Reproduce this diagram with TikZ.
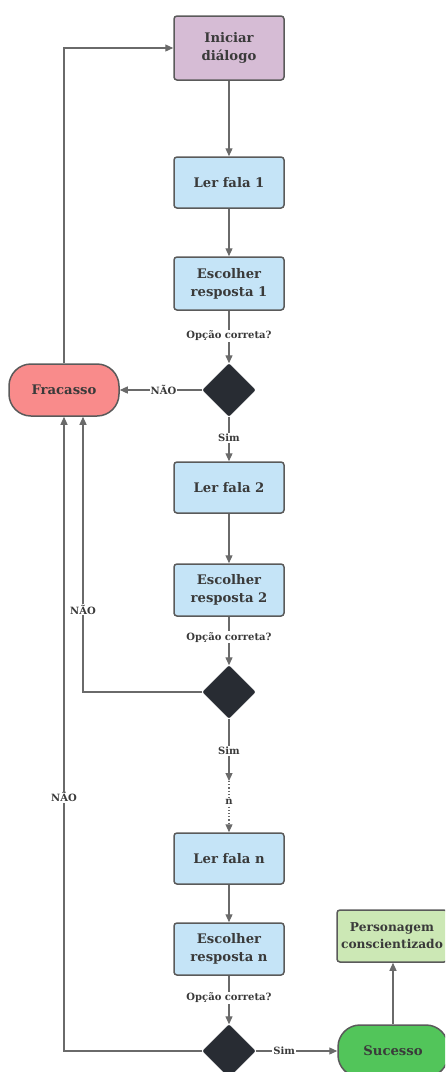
\documentclass[tikz,border=0pt]{standalone}
\usepackage{fontspec}
\setmainfont{DejaVu Serif}
\usetikzlibrary{arrows.meta,shapes.geometric}
\definecolor{boxline}{HTML}{5A5A5A}
\definecolor{conncol}{HTML}{6A6A6A}
\definecolor{txtcol}{HTML}{3A3A3A}
\definecolor{purplefill}{HTML}{D6BCD5}
\definecolor{bluefill}{HTML}{C5E4F7}
\definecolor{redfill}{HTML}{F98B8B}
\definecolor{greenfill}{HTML}{52C55A}
\definecolor{lightgreen}{HTML}{CCE8B5}
\definecolor{diamondfill}{HTML}{282C33}
\tikzset{
  x=1pt,y=1pt,
  box/.style={draw=boxline, line width=1.5pt, rounded corners=3pt, minimum width=110pt, minimum height=52pt,
    align=center, text=txtcol, font=\fontsize{13.2}{18}\selectfont\bfseries, inner sep=0pt},
  pill/.style={draw=boxline, line width=1.5pt, rounded corners=22pt, minimum width=110pt, minimum height=52pt,
    align=center, text=txtcol, font=\fontsize{13.2}{18}\selectfont\bfseries, inner sep=0pt},
  dec/.style={diamond, aspect=1, draw=diamondfill, fill=diamondfill, minimum width=53pt, minimum height=53pt,
    inner sep=0pt, rounded corners=2pt},
  conn/.style={draw=conncol, line width=1.2pt, -{Triangle[length=8pt,width=7pt]}},
  lbl/.style={fill=white, text=txtcol, font=\fontsize{10}{11}\selectfont\bfseries, inner sep=1pt}
}
\begin{document}
\begin{tikzpicture}
\useasboundingbox (0,0) rectangle (445,-1072);
\clip (0,0) rectangle (445,-1072);
% nodes
\node[box, fill=purplefill, minimum height=64pt] (ini) at (229,-48) {Iniciar\\diálogo};
\node[box, fill=bluefill, minimum height=51pt] (l1) at (229,-182.5) {Ler fala 1};
\node[box, fill=bluefill, minimum height=53pt] (e1) at (229,-283.5) {Escolher\\resposta 1};
\node[dec] (d1) at (229,-390) {};
\node[pill, fill=redfill] (fr) at (64,-390) {Fracasso};
\node[box, fill=bluefill, minimum height=51pt] (l2) at (229,-487.5) {Ler fala 2};
\node[box, fill=bluefill, minimum height=52pt] (e2) at (229,-590) {Escolher\\resposta 2};
\node[dec] (d2) at (229,-692) {};
\coordinate (m) at (229,-781);
\node[box, fill=bluefill, minimum height=51pt] (ln) at (229,-858.5) {Ler fala n};
\node[box, fill=bluefill, minimum height=52pt] (en) at (229,-949) {Escolher\\resposta n};
\node[dec] (d3) at (229,-1051) {};
\node[pill, fill=greenfill] (su) at (393,-1051) {Sucesso};
\node[box, fill=lightgreen, minimum height=52pt, font=\fontsize{12.2}{17}\selectfont\bfseries] (pc) at (392,-936) {Personagem\\conscientizado};
% connectors
\draw[conn] (ini) -- (l1);
\draw[conn] (l1) -- (e1);
\draw[conn] (e1) -- node[lbl, pos=0.48]{Opção correta?} (d1);
\draw[conn] (d1) -- node[lbl, pos=0.47]{NÃO} (fr);
\draw[conn] (d1) -- node[lbl, pos=0.48]{Sim} (l2);
\draw[conn] (l2) -- (e2);
\draw[conn] (e2) -- node[lbl, pos=0.42]{Opção correta?} (d2);
\draw[conn] (d2.west) -| node[lbl, pos=0.65]{NÃO} (fr.south -| 83,0);
\draw[conn] (d2) -- node[lbl, pos=0.52]{Sim} (m);
\draw[conn, dotted] (m) -- node[lbl, pos=0.4]{n} (ln);
\draw[conn] (ln) -- (en);
\draw[conn] (en) -- node[lbl, pos=0.45]{Opção correta?} (d3);
\draw[conn] (d3.west) -| node[lbl, pos=0.70]{NÃO} (fr.south);
\draw[conn] (d3.east) -- node[lbl, pos=0.35]{Sim} (su.west);
\draw[conn] (su.north) -- (su.north |- pc.south);
\draw[conn] (fr.north) |- (ini.west);
\end{tikzpicture}
\end{document}
